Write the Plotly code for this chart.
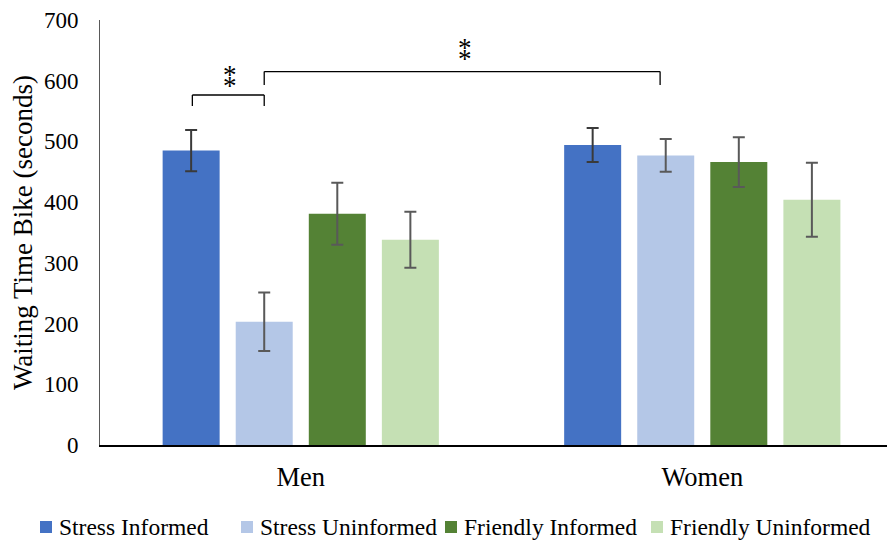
import plotly.graph_objects as go

categories = ["Men", "Women"]
series_names = ["Stress Informed", "Stress Uninformed", "Friendly Informed", "Friendly Uninformed"]
series_colors = ["#4472C4", "#B4C7E7", "#548235", "#C5E0B4"]
error_colors = ["#3a3a3a", "#595959", "#595959", "#595959"]

stress_informed = [485, 494]
stress_uninformed = [203, 477]
friendly_informed = [381, 466]
friendly_uninformed = [338, 404]

err_stress_informed = [34, 28]
err_stress_uninformed = [48, 27]
err_friendly_informed = [51, 41]
err_friendly_uninformed = [46, 61]

values = [stress_informed, stress_uninformed, friendly_informed, friendly_uninformed]
errors = [err_stress_informed, err_stress_uninformed, err_friendly_informed, err_friendly_uninformed]

y_ticks = [0, 100, 200, 300, 400, 500, 600, 700]

FONT = "Liberation Serif"

# page body has an 8px margin, so the figure is drawn 8px smaller and offset
OFF = 8
W, H = 895 - OFF, 545 - OFF
ML, MR, MT, MB = 100 - OFF, 0, 20 - OFF, 100
PW, PH = W - ML - MR, H - MT - MB


def px2paper_x(px):
    return (px - OFF - ML) / PW


def px2paper_y(py):
    return (H - MB - (py - OFF)) / PH


fig = go.Figure()
for name, col, ecol, v, e in zip(series_names, series_colors, error_colors, values, errors):
    fig.add_trace(go.Bar(
        name=name, x=categories, y=v,
        marker=dict(color=col, line=dict(width=0)),
        error_y=dict(type="data", array=e, visible=True, color=ecol, thickness=2, width=6),
    ))

# significance brackets
line = dict(color="black", width=1.3)
b1 = (-0.270, -0.091, 576.5, 558.4)
b2 = (-0.091, 0.895, 615.0, 593.0)
for (x0, x1, ytop, ybot) in (b1, b2):
    fig.add_shape(type="line", xref="x", yref="y", x0=x0, x1=x1, y0=ytop, y1=ytop, line=line)
    fig.add_shape(type="line", xref="x", yref="y", x0=x0, x1=x0, y0=ytop, y1=ybot, line=line)
    fig.add_shape(type="line", xref="x", yref="y", x0=x1, x1=x1, y0=ytop, y1=ybot, line=line)

stars = [(-0.176, 615), (-0.176, 597), (0.408, 659), (0.408, 640)]
for sx, sy in stars:
    fig.add_annotation(x=sx, y=sy, xref="x", yref="y", text="*", showarrow=False,
                       font=dict(family=FONT, size=27, color="black"),
                       yanchor="middle", yshift=-3)

# legend (drawn manually to match the single-row layout)
legend_text_x = [57, 258, 462, 668]
legend_y = 527
for name, col, tx in zip(series_names, series_colors, legend_text_x):
    fig.add_shape(type="rect", xref="paper", yref="paper",
                  x0=px2paper_x(tx - 17), x1=px2paper_x(tx - 5),
                  y0=px2paper_y(legend_y + 6), y1=px2paper_y(legend_y - 6),
                  fillcolor=col, line=dict(width=0))
    fig.add_annotation(x=px2paper_x(tx), y=px2paper_y(legend_y), xref="paper", yref="paper",
                       text=name, showarrow=False, xanchor="left", yanchor="middle",
                       font=dict(family=FONT, size=23.5, color="black"))

fig.update_layout(
    width=W, height=H,
    margin=dict(l=ML, r=MR, t=MT, b=MB, pad=0),
    paper_bgcolor="white", plot_bgcolor="white",
    barmode="group", bargap=0.272, bargroupgap=0.22,
    font=dict(family=FONT, size=23, color="black"),
    showlegend=False,
    xaxis=dict(range=[-0.5, 1.48], showline=True, linecolor="black", linewidth=2,
               showgrid=False, ticks="outside", ticklen=7, tickcolor="rgba(0,0,0,0)",
               tickfont=dict(family=FONT, size=26.5), zeroline=False, automargin=False),
    yaxis=dict(range=[0, 700], tickvals=y_ticks, showline=True, linecolor="#595959",
               linewidth=1, showgrid=False, zeroline=False, ticks="outside",
               ticklen=16, tickcolor="rgba(0,0,0,0)", tickfont=dict(family=FONT, size=23),
               automargin=False,
               title=dict(text="Waiting Time Bike (seconds)", font=dict(family=FONT, size=27),
                          standoff=6)),
)

fig.write_html("out.html")
